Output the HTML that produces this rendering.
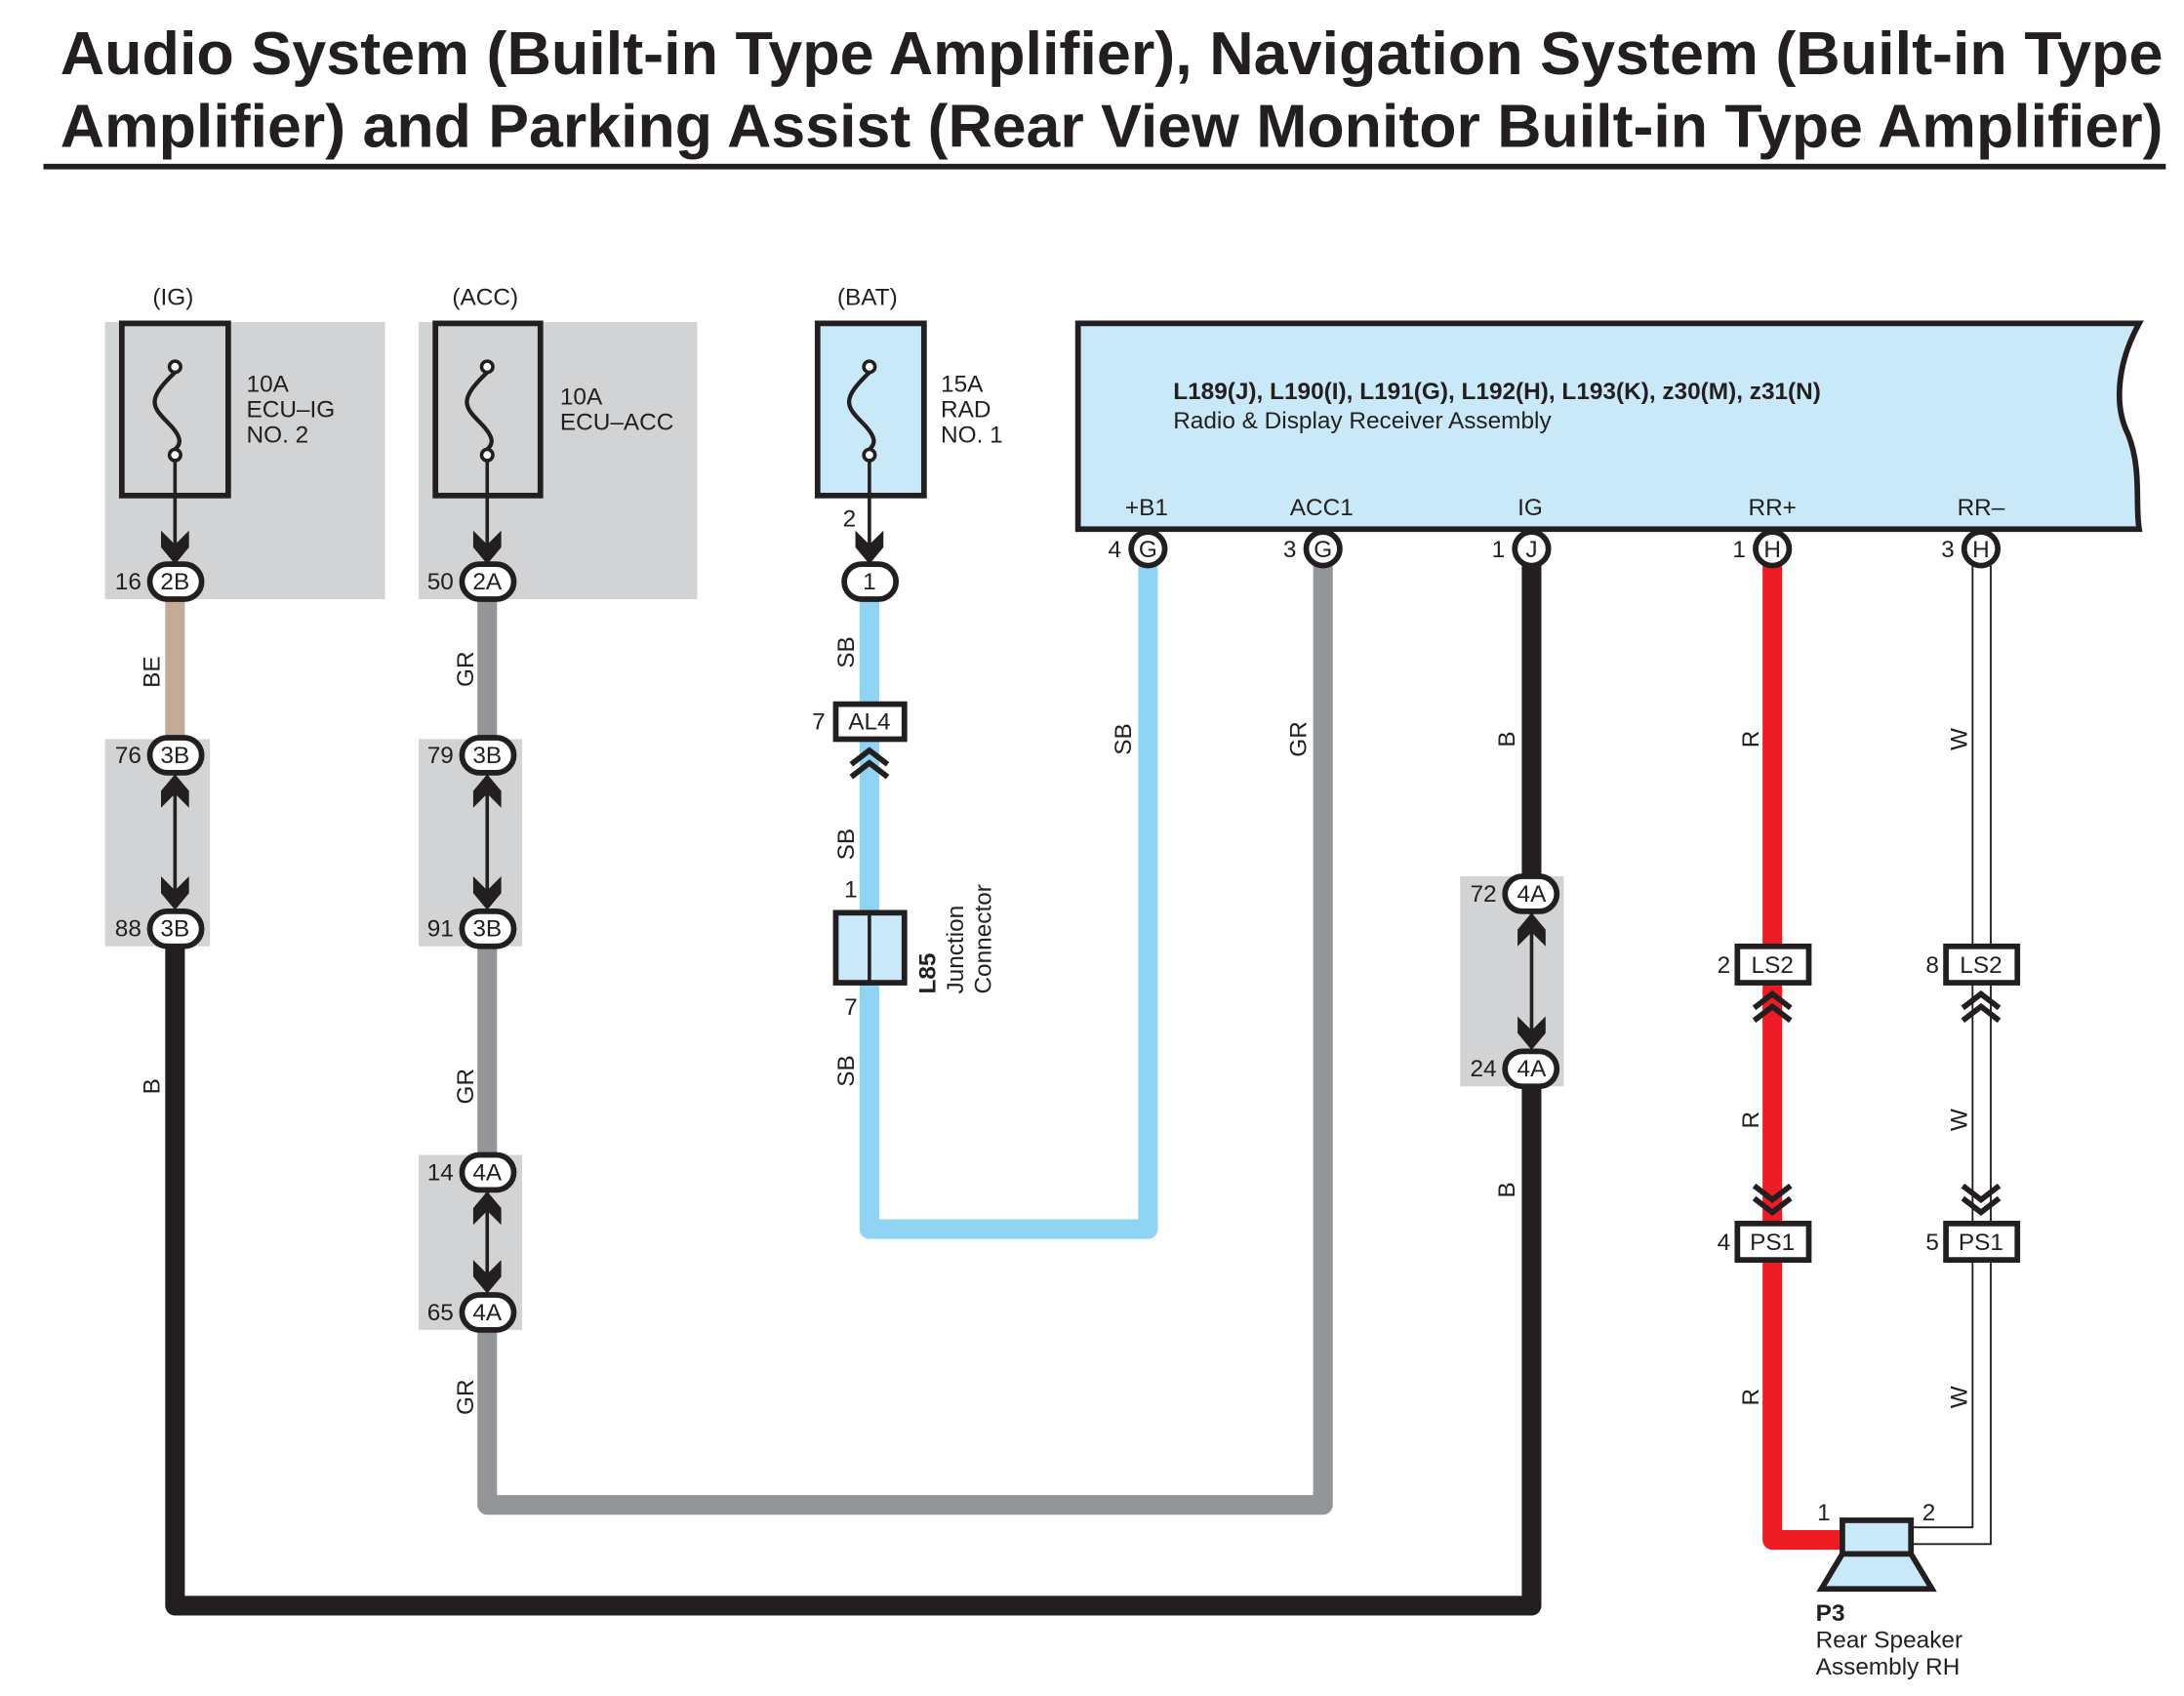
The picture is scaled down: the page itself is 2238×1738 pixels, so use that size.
<!DOCTYPE html>
<html><head><meta charset="utf-8"><style>
html,body{margin:0;padding:0;background:#fff}
svg{display:block}
text{font-family:"Liberation Sans",sans-serif;fill:#231f20}
</style></head><body>
<svg width="2238" height="1738" viewBox="0 0 1560 1211.5" xmlns="http://www.w3.org/2000/svg">
<defs>
<polygon id="ad" points="0,0 -10,-12 -10,-24 0,-14 10,-24 10,-12" fill="#231f20"/>
<polygon id="au" points="0,0 -10,12 -10,24 0,14 10,24 10,12" fill="#231f20"/>
<g id="chu" fill="none" stroke="#231f20" stroke-width="4"><path d="M-13,8 L0,-2 L13,8"/><path d="M-13,17 L0,7 L13,17"/></g>
<g id="chd" fill="none" stroke="#231f20" stroke-width="4"><path d="M-13,-8 L0,2 L13,-8"/><path d="M-13,-17 L0,-7 L13,-17"/></g>
</defs>
<rect width="1560" height="1211.5" fill="#fff"/>
<!-- title -->
<text x="43" y="53" font-size="43" font-weight="bold" textLength="1502" lengthAdjust="spacingAndGlyphs">Audio System (Built-in Type Amplifier), Navigation System (Built-in Type</text>
<text x="43" y="105" font-size="43" font-weight="bold" textLength="1502" lengthAdjust="spacingAndGlyphs">Amplifier) and Parking Assist (Rear View Monitor Built-in Type Amplifier)</text>
<rect x="31" y="117" width="1516" height="4" fill="#231f20"/>

<!-- grey panels -->
<g fill="#d1d3d4">
<rect x="75" y="230" width="200" height="198"/>
<rect x="299" y="230" width="199" height="198"/>
<rect x="75" y="528" width="75" height="148"/>
<rect x="299" y="528" width="74" height="148"/>
<rect x="299" y="825" width="74" height="125"/>
<rect x="1043" y="626" width="74" height="150"/>
</g>

<!-- wires -->
<g fill="none" stroke-linejoin="round" stroke-linecap="round">
<path d="M125,428 V528" stroke="#c4ab96" stroke-width="14"/>
<path d="M125,676 V1147 H1094 V776" stroke="#231f20" stroke-width="14"/>
<path d="M1094,404 V625" stroke="#231f20" stroke-width="14"/>
<path d="M348,428 V528 M348,676 V825 M348,950 V1075 H945 V404" stroke="#939598" stroke-width="14"/>
<path d="M621,428 V503 M621,528 V652 M621,702 V878 H820 V404" stroke="#8fd4f2" stroke-width="14"/>
<path d="M1266,404 V675 M1266,703 V873 M1266,901 V1100 H1316" stroke="#ed1c24" stroke-width="14"/>
<path d="M1409,404 V1091 H1365 M1422,404 V1103 H1365" stroke="#231f20" stroke-width="1.3" stroke-linecap="butt"/>
</g>

<!-- fuses -->
<g stroke="#231f20" stroke-width="4">
<rect x="87" y="231" width="76" height="123" fill="#d1d3d4"/>
<rect x="311" y="231" width="75" height="123" fill="#d1d3d4"/>
<rect x="584" y="231" width="76" height="123" fill="#c9e9f8"/>
</g>
<g fill="none" stroke="#231f20" stroke-width="3">
<path d="M125,266 C105,285 108,290 120,302 C132,314 128,318 125,321"/>
<path d="M348,266 C328,285 331,290 343,302 C355,314 351,318 348,321"/>
<path d="M621,266 C601,285 604,290 616,302 C628,314 624,318 621,321"/>
<path d="M125,329 V395 M348,329 V395 M621,329 V395" stroke-width="2.5"/>
</g>
<g fill="#fff" stroke="#231f20" stroke-width="2.5">
<circle cx="125" cy="262" r="4"/><circle cx="125" cy="325" r="4"/>
<circle cx="348" cy="262" r="4"/><circle cx="348" cy="325" r="4"/>
<circle cx="621" cy="262" r="4"/><circle cx="621" cy="325" r="4"/>
</g>
<use href="#ad" x="125" y="403"/><use href="#ad" x="348" y="403"/><use href="#ad" x="621" y="403"/>
<g font-size="17">
<text x="109" y="218">(IG)</text><text x="323" y="218">(ACC)</text><text x="598" y="218">(BAT)</text>
<text x="176" y="280">10A</text><text x="176" y="298">ECU–IG</text><text x="176" y="316">NO. 2</text>
<text x="400" y="289">10A</text><text x="400" y="307">ECU–ACC</text>
<text x="672" y="280">15A</text><text x="672" y="298">RAD</text><text x="672" y="316">NO. 1</text>
<text x="602" y="376">2</text>
</g>

<!-- double arrows -->
<g stroke="#231f20" stroke-width="2.5"><path d="M125,555 V648 M348,555 V648 M348,852 V922 M1094,652 V748"/></g>
<use href="#au" x="125" y="553"/><use href="#ad" x="125" y="650"/>
<use href="#au" x="348" y="553"/><use href="#ad" x="348" y="650"/>
<use href="#au" x="348" y="851"/><use href="#ad" x="348" y="924"/>
<use href="#au" x="1094" y="652"/><use href="#ad" x="1094" y="750"/>

<!-- pill connectors -->
<g fill="#fff" stroke="#231f20" stroke-width="4">
<rect x="107" y="403" width="37" height="25" rx="12.5"/>
<rect x="330" y="403" width="37" height="25" rx="12.5"/>
<rect x="603" y="403" width="37" height="25" rx="12.5"/>
<rect x="107" y="527" width="37" height="25" rx="12.5"/>
<rect x="107" y="651" width="37" height="25" rx="12.5"/>
<rect x="330" y="527" width="37" height="25" rx="12.5"/>
<rect x="330" y="651" width="37" height="25" rx="12.5"/>
<rect x="330" y="825" width="37" height="25" rx="12.5"/>
<rect x="330" y="925" width="37" height="25" rx="12.5"/>
<rect x="1075" y="626" width="37" height="25" rx="12.5"/>
<rect x="1075" y="751" width="37" height="25" rx="12.5"/>
</g>
<g font-size="17" text-anchor="middle">
<text x="125" y="421">2B</text><text x="348" y="421">2A</text><text x="621" y="421">1</text>
<text x="125" y="545">3B</text><text x="125" y="669">3B</text>
<text x="348" y="545">3B</text><text x="348" y="669">3B</text>
<text x="348" y="843">4A</text><text x="348" y="943">4A</text>
<text x="1094" y="644">4A</text><text x="1094" y="769">4A</text>
</g>
<g font-size="17" text-anchor="end">
<text x="101" y="421">16</text><text x="324" y="421">50</text>
<text x="101" y="545">76</text><text x="101" y="669">88</text>
<text x="324" y="545">79</text><text x="324" y="669">91</text>
<text x="324" y="843">14</text><text x="324" y="943">65</text>
<text x="1069" y="644">72</text><text x="1069" y="769">24</text>
</g>

<!-- AL4 + junction -->
<rect x="597" y="503" width="49" height="25" fill="#fff" stroke="#231f20" stroke-width="4"/>
<text x="621" y="521" font-size="17" text-anchor="middle">AL4</text>
<text x="580" y="521" font-size="17">7</text>
<use href="#chu" x="621" y="538"/>
<rect x="597" y="652" width="49" height="50" fill="#c9e9f8" stroke="#231f20" stroke-width="4"/>
<path d="M621,652 V702" stroke="#231f20" stroke-width="2.5"/>
<text x="603" y="641" font-size="17">1</text><text x="603" y="725" font-size="17">7</text>
<text transform="translate(668,710) rotate(-90)" font-size="17" font-weight="bold">L85</text>
<text transform="translate(688,710) rotate(-90)" font-size="17">Junction</text>
<text transform="translate(708,710) rotate(-90)" font-size="17">Connector</text>

<!-- receiver -->
<path d="M770,231 H1528 C1512,260 1510,290 1520,310 C1530,335 1525,360 1528,378 H770 Z" fill="#c9e9f8" stroke="#231f20" stroke-width="4"/>
<text x="838" y="285" font-size="17" font-weight="bold">L189(J), L190(I), L191(G), L192(H), L193(K), z30(M), z31(N)</text>
<text x="838" y="306" font-size="17">Radio &amp; Display Receiver Assembly</text>
<g font-size="17" text-anchor="middle">
<text x="819" y="368">+B1</text><text x="944" y="368">ACC1</text><text x="1093" y="368">IG</text>
<text x="1266" y="368">RR+</text><text x="1415" y="368">RR–</text>
</g>
<g fill="#fff" stroke="#231f20" stroke-width="4">
<circle cx="820" cy="392" r="12"/><circle cx="945" cy="392" r="12"/><circle cx="1094" cy="392" r="12"/>
<circle cx="1266" cy="392" r="12"/><circle cx="1415" cy="392" r="12"/>
</g>
<g font-size="17" text-anchor="middle">
<text x="820" y="398">G</text><text x="945" y="398">G</text><text x="1094" y="398">J</text><text x="1266" y="398">H</text><text x="1415" y="398">H</text>
</g>
<g font-size="17" text-anchor="end">
<text x="801" y="398">4</text><text x="926" y="398">3</text><text x="1075" y="398">1</text><text x="1247" y="398">1</text><text x="1396" y="398">3</text>
</g>

<!-- LS2 / PS1 -->
<g fill="#fff" stroke="#231f20" stroke-width="4">
<rect x="1241" y="676" width="51" height="26"/><rect x="1390" y="676" width="51" height="26"/>
<rect x="1241" y="874" width="51" height="26"/><rect x="1390" y="874" width="51" height="26"/>
</g>
<g font-size="17" text-anchor="middle">
<text x="1266" y="695">LS2</text><text x="1415" y="695">LS2</text>
<text x="1266" y="893">PS1</text><text x="1415" y="893">PS1</text>
</g>
<g font-size="17" text-anchor="end">
<text x="1236" y="695">2</text><text x="1385" y="695">8</text>
<text x="1236" y="893">4</text><text x="1385" y="893">5</text>
</g>
<use href="#chu" x="1266" y="712"/><use href="#chu" x="1415" y="712"/>
<use href="#chd" x="1266" y="864"/><use href="#chd" x="1415" y="864"/>

<!-- speaker -->
<rect x="1316" y="1086" width="49" height="24" fill="#c9e9f8" stroke="#231f20" stroke-width="4"/>
<polygon points="1316,1110 1365,1110 1380,1135 1301,1135" fill="#c9e9f8" stroke="#231f20" stroke-width="4"/>
<text x="1298" y="1086" font-size="17">1</text><text x="1373" y="1086" font-size="17">2</text>
<text x="1297" y="1158" font-size="17" font-weight="bold">P3</text>
<text x="1297" y="1177" font-size="17">Rear Speaker</text>
<text x="1297" y="1196" font-size="17">Assembly RH</text>

<!-- wire labels -->
<g font-size="17" text-anchor="middle">
<text transform="translate(114,480) rotate(-90)">BE</text>
<text transform="translate(338,478) rotate(-90)">GR</text>
<text transform="translate(610,466) rotate(-90)">SB</text>
<text transform="translate(610,603) rotate(-90)">SB</text>
<text transform="translate(610,765) rotate(-90)">SB</text>
<text transform="translate(808,528) rotate(-90)">SB</text>
<text transform="translate(933,528) rotate(-90)">GR</text>
<text transform="translate(1082,528) rotate(-90)">B</text>
<text transform="translate(1256,528) rotate(-90)">R</text>
<text transform="translate(1405,528) rotate(-90)">W</text>
<text transform="translate(114,776) rotate(-90)">B</text>
<text transform="translate(338,776) rotate(-90)">GR</text>
<text transform="translate(338,998) rotate(-90)">GR</text>
<text transform="translate(1082,850) rotate(-90)">B</text>
<text transform="translate(1256,800) rotate(-90)">R</text>
<text transform="translate(1405,800) rotate(-90)">W</text>
<text transform="translate(1256,998) rotate(-90)">R</text>
<text transform="translate(1405,998) rotate(-90)">W</text>
</g>
</svg>
</body></html>
